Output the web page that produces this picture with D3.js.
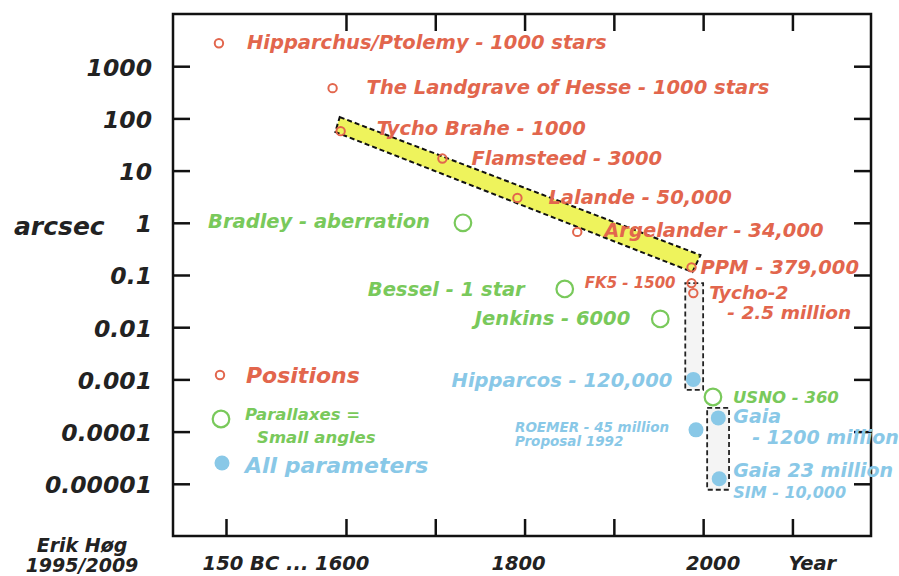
<!DOCTYPE html>
<html>
<head>
<meta charset="utf-8">
<script src="https://cdn.jsdelivr.net/npm/d3@7"></script>
<style>
  html, body { margin: 0; padding: 0; background: #ffffff; }
  text { font-family: "DejaVu Sans", sans-serif; font-weight: bold; font-style: italic; }
</style>
</head>
<body>
<svg id="chart" width="899" height="576"></svg>
<script>
// ---------------- DATA ----------------
// Positions (small red open circles)
const posNames  = ["Hipparchus/Ptolemy - 1000 stars", "The Landgrave of Hesse - 1000 stars", "Tycho Brahe - 1000",
                   "Flamsteed - 3000", "Lalande - 50,000", "Argelander - 34,000", "PPM - 379,000", "FK5 - 1500", "Tycho-2"];
const posSub    = ["", "", "", "", "", "", "", "", "- 2.5 million"];
const posYears  = [-170, 1585, 1594, 1708, 1792, 1859, 1987, 1987, 1989];
const posValues = [2750, 380, 57, 17, 3.0, 0.67, 0.14, 0.07, 0.045];

// Parallaxes (large green open circles)
const parNames  = ["Bradley - aberration", "Bessel - 1 star", "Jenkins - 6000", "USNO - 360"];
const parYears  = [1731, 1845, 1952, 2011];
const parValues = [1.0, 0.054, 0.0144, 0.00046];

// All parameters (blue filled circles)
const allNames  = ["Hipparcos - 120,000", "ROEMER - 45 million", "Gaia", "Gaia 23 million"];
const allSub    = ["", "Proposal 1992", "- 1200 million", "SIM - 10,000"];
const allYears  = [1989, 1992, 2017, 2018];
const allValues = [0.001, 0.000108, 0.000183, 0.0000125];

// Yellow band (ground-based positions trend) corners: [year, arcsec]
const bandYears  = [1593, 1997, 1988, 1588];
const bandValues = [106, 0.24, 0.114, 55];

// Dashed boxes (space astrometry): [year0, year1, value0, value1]
const boxYears  = [[1980, 2000], [2004.5, 2029]];
const boxValues = [[0.07, 0.00063], [0.000285, 0.0000077]];

// Axis ticks / labels
const yTicks      = [1000, 100, 10, 1, 0.1, 0.01, 0.001, 0.0001, 0.00001];
const yTickLabels = ["1000", "100", "10", "1", "0.1", "0.01", "0.001", "0.0001", "0.00001"];
const xTicksBottom = [-150, 1600, 1700, 1800, 1900, 2000, 2100];
const xTicksTop    = [1600, 1700, 1800, 1900, 2000, 2100];
const xLabelText   = ["150 BC ... 1600", "1800", "2000", "Year"];
const xLabelYears  = [[-150, 1600], [1800], [2000], [2100]];

// ---------------- STYLE / LAYOUT ----------------
const RED = "#e2664d", GREEN = "#79c95b", BLUE = "#89c8e7", INK = "#222222";
const labelLayout = {
  "Hipparchus/Ptolemy - 1000 stars":     {dx: 28, dy: -1, anchor: "start", size: 19.5},
  "The Landgrave of Hesse - 1000 stars": {dx: 34, dy: -1, anchor: "start", size: 19.5},
  "Tycho Brahe - 1000":                  {dx: 36, dy: -3, anchor: "start", size: 19.5},
  "Flamsteed - 3000":                    {dx: 29, dy: -1, anchor: "start", size: 19.5},
  "Lalande - 50,000":                    {dx: 31, dy: -1, anchor: "start", size: 19.5},
  "Argelander - 34,000":                 {dx: 27, dy: -2, anchor: "start", size: 19.5},
  "PPM - 379,000":                       {dx: 9,  dy: 0,  anchor: "start", size: 19.5},
  "FK5 - 1500":                          {dx: -16, dy: 0, anchor: "end", size: 15},
  "Tycho-2":                             {dx: 16, dy: -1, anchor: "start", size: 18.5, subDx: 34, subDy: 20.5, subSize: 18.5},
  "Bradley - aberration":                {dx: -33, dy: -2, anchor: "end", size: 19.5},
  "Bessel - 1 star":                     {dx: -40, dy: 0, anchor: "end", size: 19.5},
  "Jenkins - 6000":                      {dx: -30, dy: -1, anchor: "end", size: 19.5},
  "USNO - 360":                          {dx: 20, dy: 0, anchor: "start", size: 16.5},
  "Hipparcos - 120,000":                 {dx: -21, dy: 1, anchor: "end", size: 19.5},
  "ROEMER - 45 million":                 {dx: -181, dy: -3, anchor: "start", size: 13.5, subDx: -181, subDy: 14.5, subSize: 13.5},
  "Gaia":                                {dx: 15, dy: -2, anchor: "start", size: 19, subDx: 34, subDy: 21, subSize: 19},
  "Gaia 23 million":                     {dx: 14, dy: -9, anchor: "start", size: 19, subDx: 14, subDy: 22.5, subSize: 16}
};

// ---------------- SCALES ----------------
const svg = d3.select("#chart");
// broken time axis: 150 BC is squeezed in at the left, linear time from ~1570 on
const x = d3.scaleLinear().domain([-300, -150, 1570, 2188]).range([173, 226, 319.2, 871]);
const y = d3.scaleLog().domain([1e-6, 1e4]).range([536, 14]);
const [L, R] = [x(-300), x(2188)];
const [T, B] = [y(1e4), y(1e-6)];

// ---------------- BAND & BOXES ----------------
const band = bandYears.map((yr, i) => [x(yr), y(bandValues[i])]);
svg.append("path")
  .attr("d", d3.line()(band) + "Z")
  .attr("fill", "#eef35c")
  .attr("stroke", "#111")
  .attr("stroke-width", 2)
  .attr("stroke-dasharray", "5,3");

boxYears.forEach((yrs, i) => {
  const x0 = x(yrs[0]), x1 = x(yrs[1]);
  const y0 = y(boxValues[i][0]), y1 = y(boxValues[i][1]);
  svg.append("rect")
    .attr("x", x0).attr("y", y0)
    .attr("width", x1 - x0).attr("height", y1 - y0)
    .attr("fill", "#f4f4f4")
    .attr("stroke", "#222")
    .attr("stroke-width", 1.8)
    .attr("stroke-dasharray", "5,3");
});

// ---------------- AXES ----------------
function styleAxis(g) {
  g.select(".domain").remove();
  g.selectAll(".tick line").attr("stroke", "#111").attr("stroke-width", 2.5);
}
svg.append("g").attr("transform", `translate(${L},0)`)
  .call(d3.axisLeft(y).tickValues(yTicks).tickSize(-17).tickPadding(21)
        .tickFormat((d, i) => yTickLabels[i]))
  .call(styleAxis)
  .call(g => g.selectAll(".tick text")
      .attr("fill", INK).attr("font-size", 23.5)
      .attr("font-family", "DejaVu Sans").attr("font-weight", "bold").attr("font-style", "italic")
      .attr("dy", "0.38em"));
svg.append("g").attr("transform", `translate(${R},0)`)
  .call(d3.axisRight(y).tickValues(yTicks).tickSize(-17).tickFormat(""))
  .call(styleAxis);
svg.append("g").attr("transform", `translate(0,${B})`)
  .call(d3.axisBottom(x).tickValues(xTicksBottom).tickSize(-17).tickFormat(""))
  .call(styleAxis);
svg.append("g").attr("transform", `translate(0,${T})`)
  .call(d3.axisTop(x).tickValues(xTicksTop).tickSize(-17).tickFormat(""))
  .call(styleAxis);

svg.append("rect")
  .attr("x", L).attr("y", T).attr("width", R - L).attr("height", B - T)
  .attr("fill", "none").attr("stroke", "#111").attr("stroke-width", 2.5);

// x labels
const xLabelDx = [0, -6, 10, 20];
xLabelText.forEach((t, i) => {
  const cx = d3.mean(xLabelYears[i], d => x(d)) + xLabelDx[i];
  svg.append("text").attr("x", cx).attr("y", 563).attr("dy", "0.35em")
    .attr("text-anchor", "middle").attr("font-size", 19.5).attr("fill", INK).text(t);
});
svg.append("text").attr("x", 14).attr("y", 226).attr("dy", "0.35em")
  .attr("font-size", 25).attr("fill", INK).text("arcsec");
svg.append("text").attr("x", 82).attr("y", 545).attr("dy", "0.35em")
  .attr("text-anchor", "middle").attr("font-size", 19).attr("fill", INK).text("Erik Høg");
svg.append("text").attr("x", 82).attr("y", 565).attr("dy", "0.35em")
  .attr("text-anchor", "middle").attr("font-size", 19).attr("fill", INK).text("1995/2009");

// ---------------- MARKS ----------------
function series(names, subs, years, values, color, drawSymbol) {
  names.forEach((name, i) => {
    const px = x(years[i]), py = y(values[i]);
    drawSymbol(px, py);
    const lay = labelLayout[name];
    svg.append("text")
      .attr("x", px + lay.dx).attr("y", py + lay.dy).attr("dy", "0.36em")
      .attr("text-anchor", lay.anchor).attr("font-size", lay.size)
      .attr("fill", color).text(name);
    if (subs && subs[i]) {
      svg.append("text")
        .attr("x", px + lay.subDx).attr("y", py + lay.dy + lay.subDy).attr("dy", "0.36em")
        .attr("text-anchor", lay.anchor).attr("font-size", lay.subSize)
        .attr("fill", color).text(subs[i]);
    }
  });
}
const redSym = (cx, cy) => svg.append("circle").attr("cx", cx).attr("cy", cy).attr("r", 4.2)
  .attr("fill", "none").attr("stroke", RED).attr("stroke-width", 2);
const greenSym = (cx, cy) => svg.append("circle").attr("cx", cx).attr("cy", cy).attr("r", 8.3)
  .attr("fill", "none").attr("stroke", GREEN).attr("stroke-width", 2.2);
const blueSym = (cx, cy) => svg.append("circle").attr("cx", cx).attr("cy", cy).attr("r", 7.5)
  .attr("fill", BLUE);

series(posNames, posSub, posYears, posValues, RED, redSym);
series(parNames, null, parYears, parValues, GREEN, greenSym);
series(allNames, allSub, allYears, allValues, BLUE, blueSym);

// ---------------- LEGEND ----------------
redSym(220, 375);
svg.append("text").attr("x", 246).attr("y", 375).attr("dy", "0.36em")
  .attr("font-size", 22).attr("fill", RED).text("Positions");
greenSym(221, 419);
svg.append("text").attr("x", 245).attr("y", 414).attr("dy", "0.36em")
  .attr("font-size", 16.5).attr("fill", GREEN).text("Parallaxes =");
svg.append("text").attr("x", 257).attr("y", 437).attr("dy", "0.36em")
  .attr("font-size", 16.5).attr("fill", GREEN).text("Small angles");
blueSym(222, 463);
svg.append("text").attr("x", 245).attr("y", 465).attr("dy", "0.36em")
  .attr("font-size", 22).attr("fill", BLUE).text("All parameters");
</script>
</body>
</html>
